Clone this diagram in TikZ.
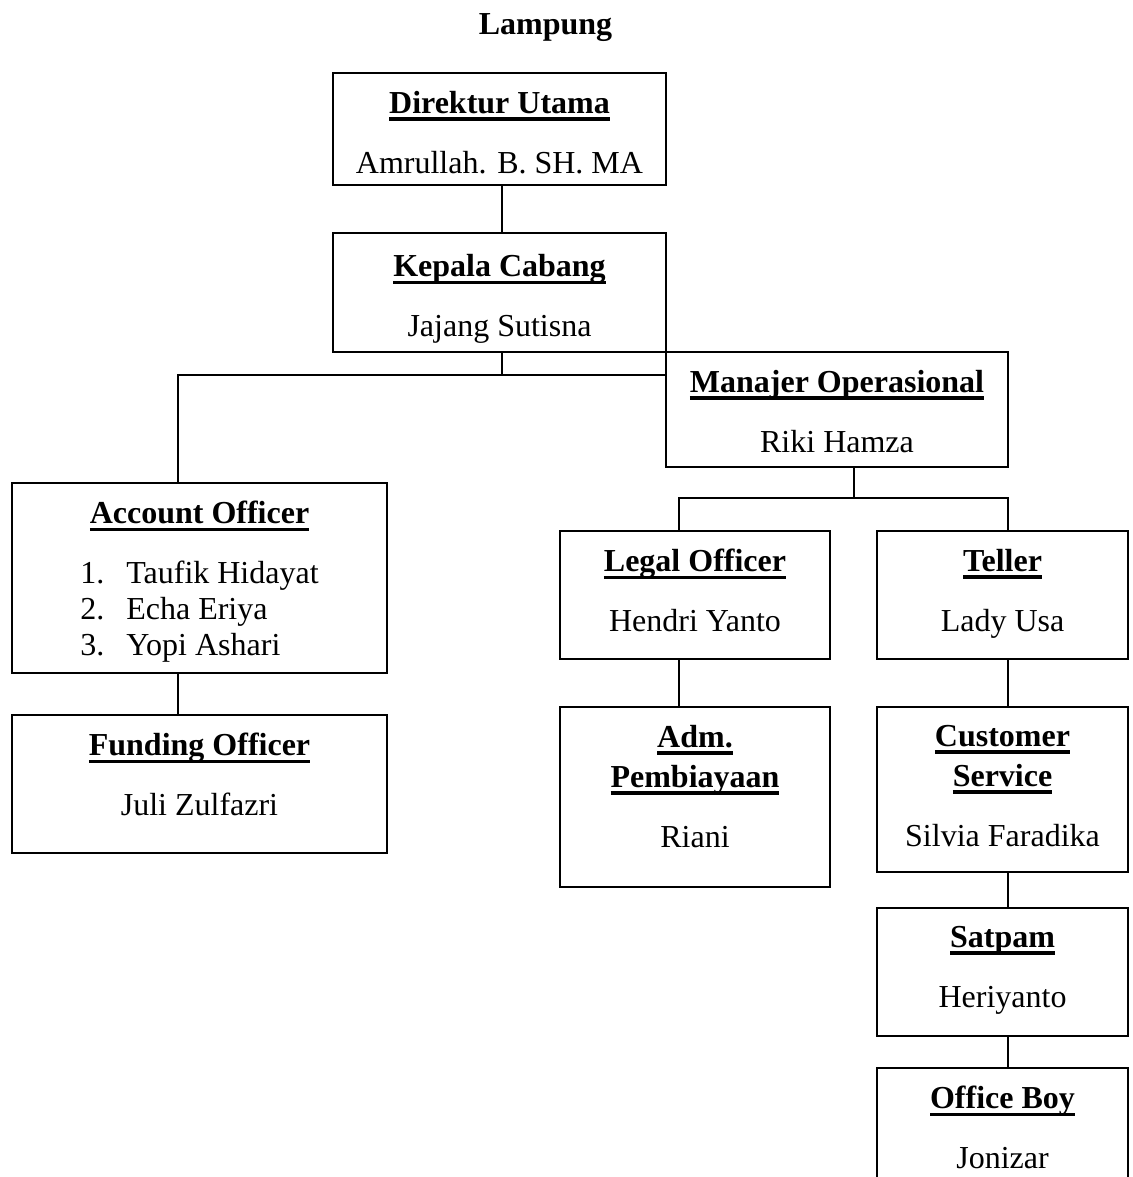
\documentclass[tikz,border=0pt]{standalone}
\usepackage{fontspec}
\setmainfont{Liberation Serif}
\usetikzlibrary{positioning}
\newsavebox{\ulbox}
\newcommand{\ulb}[1]{\sbox{\ulbox}{\bfseries #1}\rlap{\rule[-3.9pt]{\wd\ulbox}{1.9pt}}\usebox{\ulbox}}
\tikzset{
  box/.style={draw, line width=1pt, inner sep=0pt},
  txt/.style={align=center, inner sep=0pt},
  conn/.style={line width=1pt},
  every node/.append style={font=\fontsize{16}{20}\selectfont},
}
\begin{document}
\begin{tikzpicture}[x=0.5pt,y=-0.5pt]
  \useasboundingbox (0,0) rectangle (1133,1177);
  \clip (0,0) rectangle (1133,1177);

  \node[anchor=base] (judul) at (545.5,35) {\bfseries Lampung};

  % boxes
  \node[box, minimum width=166.5pt, minimum height=56pt] (dir) at (499.5,129) {};
  \node[box, minimum width=166.5pt, minimum height=59.5pt] (kc) at (499.5,292.5) {};
  \node[box, minimum width=171pt, minimum height=57.5pt] (mo) at (837,409.5) {};
  \node[box, minimum width=187.5pt, minimum height=95pt] (ao) at (199.5,578) {};
  \node[box, minimum width=187.5pt, minimum height=69pt] (fo) at (199.5,784) {};
  \node[box, minimum width=135pt, minimum height=64pt] (lo) at (695,595) {};
  \node[box, minimum width=135pt, minimum height=90pt] (adm) at (695,797) {};
  \node[box, minimum width=125.5pt, minimum height=64pt] (tel) at (1002.5,595) {};
  \node[box, minimum width=125.5pt, minimum height=82.5pt] (cs) at (1002.5,789.5) {};
  \node[box, minimum width=125.5pt, minimum height=64pt] (sat) at (1002.5,972) {};
  \node[box, minimum width=125.5pt, minimum height=66pt] (ob) at (1002.5,1134) {};

  % texts
  \node[txt, below=9.3pt of dir.north] (dirtx) {\ulb{Direktur Utama}\\[10pt]Amrullah. B. SH. MA};
  \node[txt, below=11pt of kc.north] (kctx) {\ulb{Kepala Cabang}\\[10pt]Jajang Sutisna};
  \node[txt, below=9.3pt of mo.north] (motx) {\ulb{Manajer Operasional}\\[10pt]Riki Hamza};
  \node[txt, below=9.3pt of ao.north] (aotx) {\ulb{Account Officer}\\[10pt]%
    \renewcommand{\arraystretch}{0.9}%
    \begin{tabular}[t]{@{}l@{\hspace{11pt}}l@{}}
      1. & Taufik Hidayat\\
      2. & Echa Eriya\\
      3. & Yopi Ashari
    \end{tabular}};
  \node[txt, below=9.3pt of fo.north] (fotx) {\ulb{Funding Officer}\\[10pt]Juli Zulfazri};
  \node[txt, below=9.3pt of lo.north] (lotx) {\ulb{Legal Officer}\\[10pt]Hendri Yanto};
  \node[txt, below=9.3pt of adm.north] (admtx) {\ulb{Adm.}\\\ulb{Pembiayaan}\\[10pt]Riani};
  \node[txt, below=9.3pt of tel.north] (teltx) {\ulb{Teller}\\[10pt]Lady Usa};
  \node[txt, below=9.3pt of cs.north] (cstx) {\ulb{Customer}\\\ulb{Service}\\[10pt]Silvia Faradika};
  \node[txt, below=9.3pt of sat.north] (sattx) {\ulb{Satpam}\\[10pt]Heriyanto};
  \node[txt, below=9.3pt of ob.north] (obtx) {\ulb{Office Boy}\\[10pt]Jonizar};

  % connectors
  \coordinate (s1) at (502,375);
  \coordinate (j1) at (178,375);
  \coordinate (s2) at (854,498);
  \coordinate (j3) at (679,498);
  \coordinate (j4) at (1008,498);
  \draw[conn] (s1 |- dir.south) -- (s1 |- kc.north);
  \draw[conn] (s1 |- kc.south) -- (s1);
  \draw[conn] (j1 |- ao.north) -- (j1) -- (j1 -| mo.west);
  \draw[conn] (j1 |- ao.south) -- (j1 |- fo.north);
  \draw[conn] (s2 |- mo.south) -- (s2);
  \draw[conn] (j3 |- lo.north) -- (j3) -- (j4) -- (j4 |- tel.north);
  \draw[conn] (j3 |- lo.south) -- (j3 |- adm.north);
  \draw[conn] (j4 |- tel.south) -- (j4 |- cs.north);
  \draw[conn] (j4 |- cs.south) -- (j4 |- sat.north);
  \draw[conn] (j4 |- sat.south) -- (j4 |- ob.north);
\end{tikzpicture}
\end{document}
